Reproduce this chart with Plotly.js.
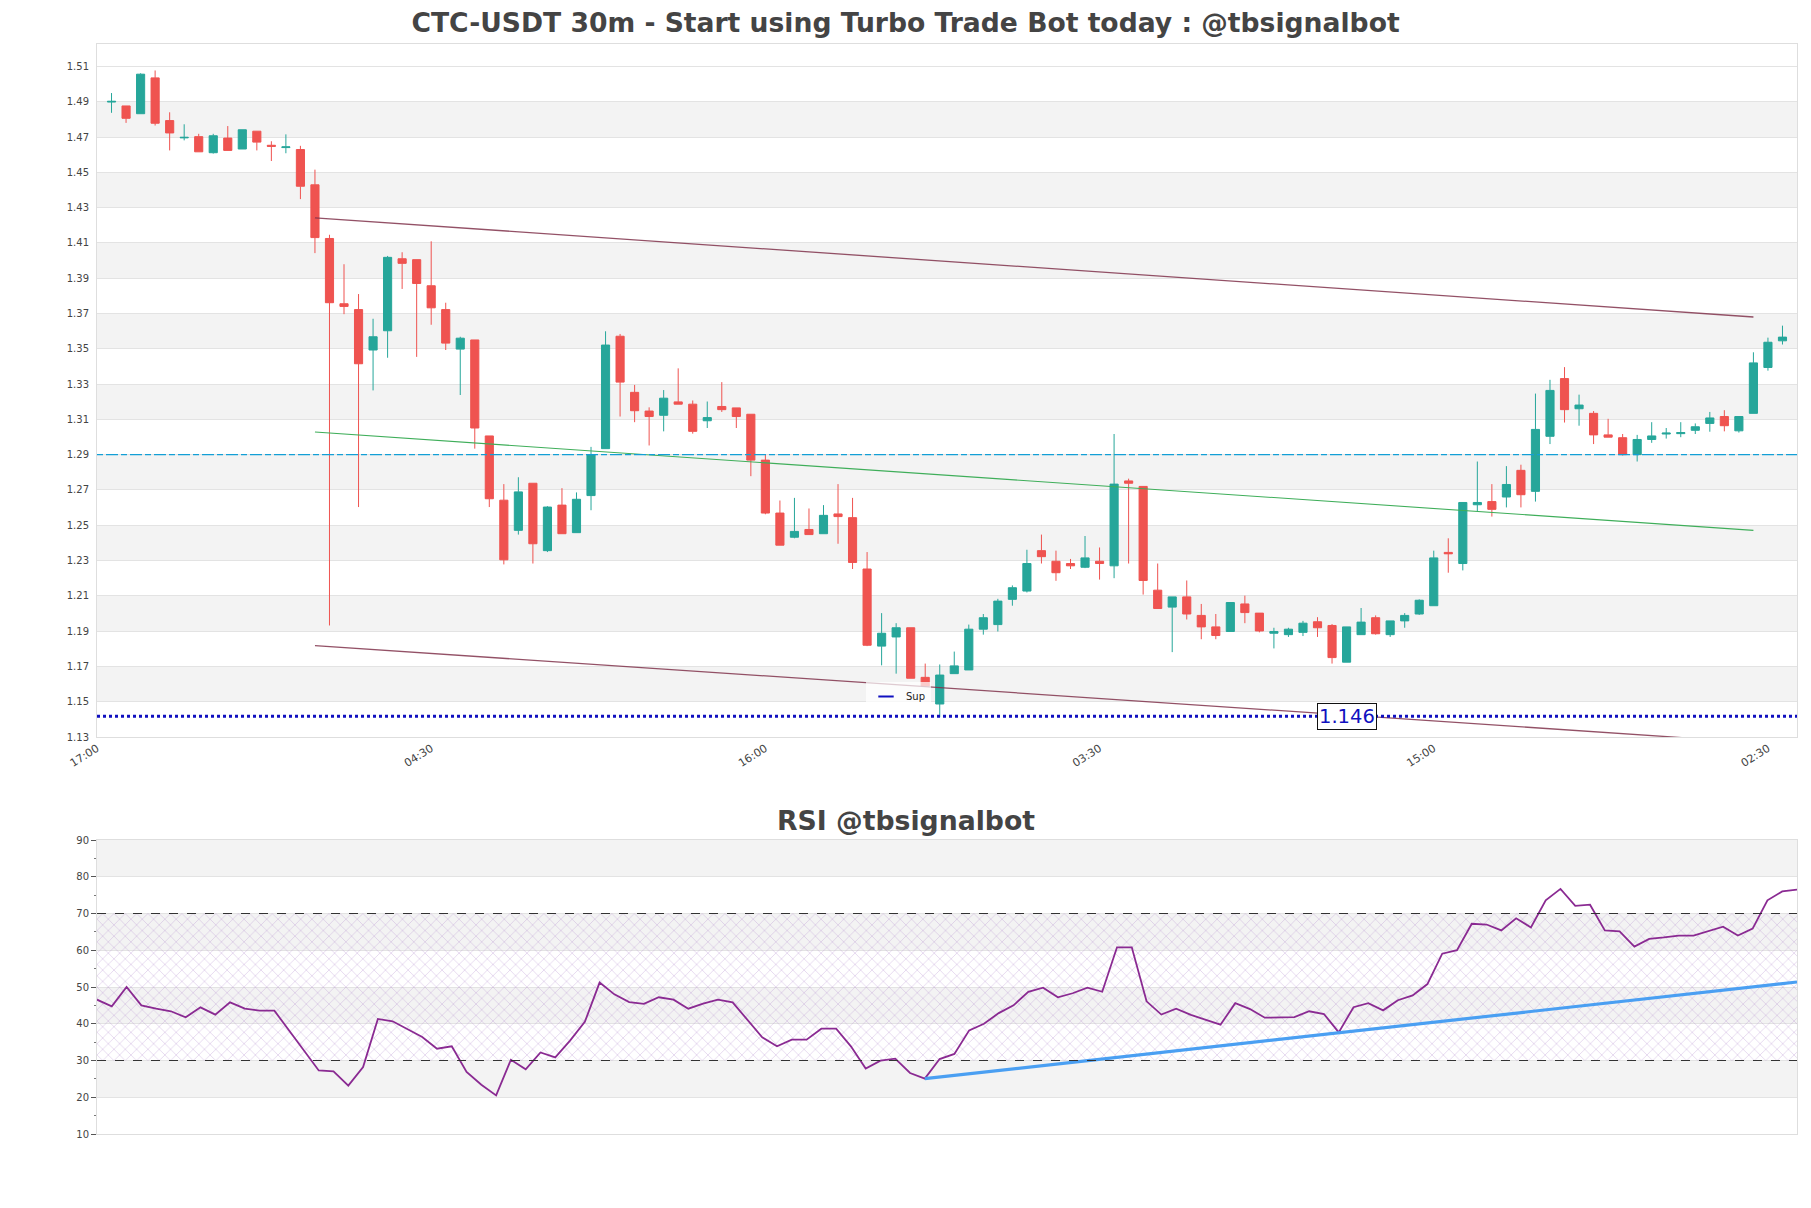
<!DOCTYPE html>
<html>
<head>
<meta charset="utf-8">
<script src="https://cdn.plot.ly/plotly-3.0.1.min.js"></script>
<style>
html,body{margin:0;padding:0;background:#fff;}
#chart{width:1811px;height:1208px;}
</style>
</head>
<body>
<div id="chart"></div>
<script>
// ---------------- DATA ----------------
const TITLE = 'CTC-USDT 30m - Start using Turbo Trade Bot today : @tbsignalbot';
const RSI_TITLE = 'RSI @tbsignalbot';
const START_TIME = '2024-01-01T17:30:00Z';   // first candle
const BAR_MINUTES = 30;

const OPEN = [
1.4898,1.4876,1.4832,1.5035,1.4793,1.4695,1.4702,1.4611,1.4694,1.4632,
1.4733,1.4653,1.4640,1.4629,1.4429,1.4125,1.3755,1.3722,1.3493,1.3602,
1.4010,1.4005,1.3857,1.3722,1.3498,1.3550,1.3006,1.2642,1.2471,1.2738,
1.2356,1.2614,1.2458,1.2668,1.2934,1.3571,1.3253,1.3147,1.3123,1.3199,
1.3186,1.3092,1.3173,1.3165,1.3129,1.2869,1.2569,1.2432,1.2476,1.2452,
1.2564,1.2543,1.2252,1.1815,1.1867,1.1919,1.1638,1.1487,1.1659,1.1680,
1.1911,1.1937,1.2080,1.2127,1.2356,1.2296,1.2283,1.2262,1.2296,1.2270,
1.2751,1.2720,1.2132,1.2036,1.2094,1.1989,1.1924,1.1898,1.2054,1.2002,
1.1888,1.1880,1.1893,1.1953,1.1932,1.1724,1.1880,1.1976,1.1880,1.1958,
1.1997,1.2044,1.2346,1.2283,1.2616,1.2634,1.2660,1.2811,1.2692,1.3004,
1.3331,1.3160,1.3134,1.3012,1.2996,1.2900,1.2986,1.3017,1.3019,1.3038,
1.3077,1.3116,1.3035,1.3134,1.3394,1.3545];
const HIGH = [
1.4949,1.4876,1.5061,1.5077,1.4840,1.4772,1.4718,1.4718,1.4762,1.4741,
1.4733,1.4676,1.4715,1.4650,1.4515,1.4146,1.3979,1.3810,1.3670,1.4026,
1.4047,1.4005,1.4109,1.3761,1.3568,1.3550,1.3006,1.2733,1.2772,1.2738,
1.2608,1.2710,1.2686,1.2944,1.3599,1.3584,1.3295,1.3168,1.3266,1.3389,
1.3207,1.3201,1.3311,1.3165,1.3129,1.2900,1.2640,1.2655,1.2595,1.2614,
1.2733,1.2655,1.2348,1.2002,1.1945,1.1919,1.1716,1.1711,1.1784,1.1937,
1.1997,1.2083,1.2159,1.2361,1.2447,1.2356,1.2309,1.2439,1.2374,1.3017,
1.2764,1.2720,1.2283,1.2094,1.2187,1.2054,1.1997,1.2062,1.2101,1.2002,
1.1919,1.1919,1.1958,1.1979,1.1940,1.1924,1.2031,1.1989,1.1958,1.2002,
1.2080,1.2356,1.2426,1.2629,1.2861,1.2733,1.2835,1.2843,1.3246,1.3324,
1.3396,1.3240,1.3147,1.3103,1.3017,1.3012,1.3084,1.3051,1.3084,1.3077,
1.3142,1.3152,1.3116,1.3480,1.3563,1.3631];
const LOW = [
1.4837,1.4780,1.4832,1.4765,1.4624,1.4681,1.4616,1.4606,1.4624,1.4632,
1.4624,1.4564,1.4608,1.4348,1.4042,1.1932,1.3696,1.2603,1.3264,1.3449,
1.3839,1.3454,1.3636,1.3493,1.3238,1.2934,1.2603,1.2278,1.2447,1.2283,
1.2348,1.2452,1.2458,1.2585,1.2934,1.3116,1.3084,1.2952,1.3032,1.3186,
1.3019,1.3051,1.3142,1.3051,1.2778,1.2562,1.2387,1.2426,1.2447,1.2452,
1.2395,1.2252,1.1815,1.1706,1.1659,1.1633,1.1589,1.1412,1.1659,1.1680,
1.1880,1.1898,1.2044,1.2119,1.2283,1.2185,1.2252,1.2257,1.2192,1.2200,
1.2283,1.2107,1.2028,1.1781,1.1966,1.1854,1.1854,1.1898,1.1945,1.1893,
1.1802,1.1867,1.1872,1.1867,1.1716,1.1724,1.1880,1.1880,1.1867,1.1919,
1.1992,1.2044,1.2231,1.2244,1.2577,1.2549,1.2601,1.2601,1.2634,1.2960,
1.3082,1.3064,1.2960,1.2999,1.2895,1.2861,1.2967,1.2991,1.2999,1.3017,
1.3030,1.3032,1.3025,1.3134,1.3376,1.3524];
const CLOSE = [
1.4902,1.4806,1.5056,1.4778,1.4723,1.4698,1.4616,1.4707,1.4624,1.4741,
1.4671,1.4647,1.4644,1.4421,1.4130,1.3761,1.3740,1.3415,1.3568,1.4018,
1.3984,1.3870,1.3732,1.3532,1.3560,1.3051,1.2650,1.2304,1.2689,1.2395,
1.2603,1.2452,1.2647,1.2900,1.3521,1.3311,1.3149,1.3116,1.3220,1.3186,
1.3032,1.3110,1.3155,1.3116,1.2869,1.2569,1.2387,1.2465,1.2447,1.2556,
1.2549,1.2289,1.1820,1.1888,1.1919,1.1633,1.1589,1.1651,1.1703,1.1911,
1.1976,1.2070,1.2146,1.2283,1.2322,1.2231,1.2270,1.2315,1.2283,1.2733,
1.2738,1.2187,1.2028,1.2094,1.1997,1.1924,1.1875,1.2062,1.2005,1.1901,
1.1898,1.1911,1.1945,1.1919,1.1750,1.1924,1.1951,1.1885,1.1958,1.1989,
1.2075,1.2315,1.2338,1.2629,1.2629,1.2590,1.2731,1.2673,1.3043,1.3264,
1.3155,1.3181,1.3012,1.2999,1.2900,1.2986,1.3006,1.3022,1.3025,1.3058,
1.3108,1.3064,1.3116,1.3420,1.3537,1.3566];

const RSI = [
46.55,44.74,50.00,45.00,44.10,43.40,41.75,44.47,42.47,45.83,
44.10,43.56,43.56,38.10,32.80,27.30,27.05,23.15,28.20,41.30,
40.66,38.60,36.40,33.20,33.85,26.90,23.40,20.50,30.20,27.60,
32.20,30.86,35.40,40.50,51.20,48.00,45.90,45.40,47.20,46.55,
44.10,45.50,46.55,45.83,41.10,36.30,33.85,35.67,35.67,38.66,
38.66,33.85,27.80,29.95,30.50,26.60,25.06,30.40,31.80,38.20,
40.00,42.90,45.00,48.70,49.80,47.20,48.30,49.80,48.70,60.80,
60.80,46.10,42.50,44.10,42.40,41.10,39.75,45.60,44.00,41.65,
41.65,41.80,43.40,42.65,37.66,44.50,45.60,43.65,46.40,47.70,
50.80,59.07,60.00,67.20,67.00,65.40,68.70,66.20,73.60,76.70,
72.10,72.40,65.40,65.15,61.00,63.10,63.50,64.00,64.00,65.15,
66.40,64.00,65.90,73.60,76.00,76.50];

const TICK_LABELS = ['17:00','04:30','16:00','03:30','15:00','02:30'];
const TICK_STEP_HOURS = 11.5;
const PRICE_TICKS = [1.13,1.15,1.17,1.19,1.21,1.23,1.25,1.27,1.29,1.31,1.33,1.35,1.37,1.39,1.41,1.43,1.45,1.47,1.49,1.51];
const RSI_TICKS = [10,20,30,40,50,60,70,80,90];

const CHANNEL_IDX = [14, 113];
const CHANNEL_UPPER = [1.4242, 1.3680];
const CHANNEL_MIDDLE = [1.3028, 1.2471];
const CHANNEL_LOWER = [1.1818, 1.1269];
const PIVOT_LEVEL = 1.29;
const SUPPORT_LEVEL = 1.1417;
const SUPPORT_LABEL = '1.146';
const SUPPORT_NAME = 'Sup';
const RSI_TREND_IDX = [56, 115];
const RSI_TREND = [25.06, 51.36];
const RSI_LIMITS = [30, 70];

// ---------------- BUILD ----------------
const MS_BAR = BAR_MINUTES * 60000;
const T0 = Date.parse(START_TIME);
function fmt(ms){ return new Date(ms).toISOString().slice(0,19).replace('T',' '); }
const TIMES = OPEN.map((_, i) => fmt(T0 + i * MS_BAR));
const TICK_VALS = TICK_LABELS.map((_, k) => fmt(T0 - MS_BAR + k * TICK_STEP_HOURS * 3600000));
const X_RANGE = [fmt(T0 - MS_BAR), fmt(T0 + OPEN.length * MS_BAR)];

const GREEN = '#26a69a', RED = '#ef5350';
const traces = [];

traces.push({
  type: 'candlestick', x: TIMES, open: OPEN, high: HIGH, low: LOW, close: CLOSE,
  xaxis: 'x', yaxis: 'y', showlegend: false, hoverinfo: 'skip', whiskerwidth: 0,
  increasing: {line: {color: GREEN, width: 1}, fillcolor: GREEN},
  decreasing: {line: {color: RED, width: 1}, fillcolor: RED}
});

const chX = [TIMES[CHANNEL_IDX[0]], TIMES[CHANNEL_IDX[1]]];
traces.push({type:'scatter', mode:'lines', x: chX, y: CHANNEL_UPPER, xaxis:'x', yaxis:'y',
  line:{color:'rgba(128,50,75,0.85)', width:1.3}, showlegend:false, hoverinfo:'skip'});
traces.push({type:'scatter', mode:'lines', x: chX, y: CHANNEL_MIDDLE, xaxis:'x', yaxis:'y',
  line:{color:'#3fae5a', width:1.1}, showlegend:false, hoverinfo:'skip'});
traces.push({type:'scatter', mode:'lines', x: chX, y: CHANNEL_LOWER, xaxis:'x', yaxis:'y',
  line:{color:'rgba(128,50,75,0.85)', width:1.3}, showlegend:false, hoverinfo:'skip'});

// legend-only entry for support
traces.push({type:'scatter', mode:'markers', x:[null], y:[null], xaxis:'x', yaxis:'y',
  name: SUPPORT_NAME, marker:{symbol:'line-ew', size:11, color:'#1010c0', line:{color:'#1010c0', width:2}},
  showlegend:true, hoverinfo:'skip'});

// RSI hatch band
const rsiX = [TIMES[0], TIMES[TIMES.length-1], TIMES[TIMES.length-1], TIMES[0], TIMES[0]];
traces.push({type:'scatter', mode:'lines', x: rsiX,
  y:[RSI_LIMITS[0], RSI_LIMITS[0], RSI_LIMITS[1], RSI_LIMITS[1], RSI_LIMITS[0]],
  xaxis:'x2', yaxis:'y2', fill:'toself', fillcolor:'rgba(0,0,0,0)',
  fillpattern:{shape:'x', fgcolor:'rgba(175,135,205,0.6)', bgcolor:'rgba(255,255,255,0)', size:8, solidity:0.12},
  line:{width:0}, showlegend:false, hoverinfo:'skip'});

traces.push({type:'scatter', mode:'lines', x: TIMES, y: RSI, xaxis:'x2', yaxis:'y2',
  line:{color:'#8a2a92', width:1.8}, showlegend:false, hoverinfo:'skip'});
traces.push({type:'scatter', mode:'lines', x:[TIMES[RSI_TREND_IDX[0]], TIMES[RSI_TREND_IDX[1]]], y: RSI_TREND,
  xaxis:'x2', yaxis:'y2', line:{color:'#4a9ff2', width:3.2}, showlegend:false, hoverinfo:'skip'});

// shapes: alternating bands, levels
const shapes = [];
for (let j = 1; j + 1 < PRICE_TICKS.length; j += 2) {
  shapes.push({type:'rect', layer:'below', xref:'paper', x0:0, x1:1, yref:'y',
    y0: PRICE_TICKS[j], y1: PRICE_TICKS[j+1], fillcolor:'#f3f3f3', line:{width:0}});
}
for (let j = 1; j + 1 < RSI_TICKS.length; j += 2) {
  shapes.push({type:'rect', layer:'below', xref:'paper', x0:0, x1:1, yref:'y2',
    y0: RSI_TICKS[j], y1: RSI_TICKS[j+1], fillcolor:'#f3f3f3', line:{width:0}});
}
shapes.push({type:'line', xref:'paper', x0:0, x1:1, yref:'y', y0:PIVOT_LEVEL, y1:PIVOT_LEVEL,
  line:{color:'#139fd6', width:1.1, dash:'6px,3px,12px,3px'}});
shapes.push({type:'line', xref:'paper', x0:0, x1:1, yref:'y', y0:SUPPORT_LEVEL, y1:SUPPORT_LEVEL,
  line:{color:'#1010c0', width:3, dash:'dot'}});
RSI_LIMITS.forEach(v => shapes.push({type:'line', xref:'paper', x0:0, x1:1, yref:'y2', y0:v, y1:v,
  line:{color:'#333', width:1.2, dash:'dash'}}));

const FONT = 'DejaVu Sans';
const H = 1208, W = 1811;
const M = {l:97, r:14, t:44, b:74};
const PH = H - M.t - M.b;
const topDomain = [(1134 - 737) / PH, 1];
const rsiDomain = [0, (1134 - 840) / PH];

const layout = {
  width: W, height: H,
  margin: M,
  paper_bgcolor:'#fff', plot_bgcolor:'#fff',
  font:{family:FONT, size:10, color:'#444'},
  boxgap: 0.2,
  title:{text: TITLE, font:{family:FONT, size:26.6, color:'#444', weight:'bold'},
    x:0.5, xref:'container', xanchor:'center', y:1 - 23/H, yref:'container', yanchor:'middle'},
  showlegend:true,
  legend:{x:(866-97)/1700, y:(1134-682)/PH, xanchor:'left', yanchor:'top',
    bgcolor:'rgba(255,255,255,0.7)', font:{size:10, color:'#222'}, itemwidth:30},
  xaxis:{domain:[0,1], anchor:'y', type:'date', range:X_RANGE, rangeslider:{visible:false},
    tickvals:TICK_VALS, ticktext:TICK_LABELS, tickangle:-32, tickfont:{size:11, color:'#444'},
    showgrid:false, showline:true, mirror:true, linecolor:'#dedede', linewidth:1, ticks:'', zeroline:false},
  yaxis:{domain:topDomain, anchor:'x', range:[PRICE_TICKS[0], 1.5227], tickvals:PRICE_TICKS,
    tickformat:'.2f', tickfont:{size:10, color:'#444'}, gridcolor:'#e3e3e3', gridwidth:1,
    showline:true, mirror:true, linecolor:'#dedede', ticks:'outside', ticklen:5, tickcolor:'rgba(0,0,0,0)', zeroline:false},
  xaxis2:{domain:[0,1], anchor:'y2', type:'date', showticklabels:false, showgrid:false,
    showline:true, mirror:true, linecolor:'#dedede', ticks:'', zeroline:false},
  yaxis2:{domain:rsiDomain, anchor:'x2', range:[RSI_TICKS[0], RSI_TICKS[RSI_TICKS.length-1]], tickvals:RSI_TICKS,
    tickfont:{size:10, color:'#444'}, gridcolor:'#e3e3e3', showline:true, mirror:true, linecolor:'#dedede',
    ticks:'outside', ticklen:5, tickcolor:'#555', zeroline:false,
    minor:{ticks:'outside', ticklen:2, dtick:5, tickcolor:'#777', showgrid:false}},
  shapes: shapes,
  annotations:[
    {text: RSI_TITLE, xref:'paper', yref:'paper', x:(905.5-97)/1700, y:(1134-820)/PH,
      xanchor:'center', yanchor:'middle', showarrow:false,
      font:{family:FONT, size:26.7, color:'#444', weight:'bold'}},
    {text: SUPPORT_LABEL, xref:'paper', yref:'y', x:(1347-97)/1700, y:SUPPORT_LEVEL,
      xanchor:'center', yanchor:'middle', showarrow:false, bgcolor:'#fff', bordercolor:'#111',
      borderwidth:1, borderpad:1, font:{family:FONT, size:19.5, color:'#1010c0'}}
  ]
};

Plotly.newPlot('chart', traces, layout, {displayModeBar:false, staticPlot:true});
</script>
</body>
</html>
